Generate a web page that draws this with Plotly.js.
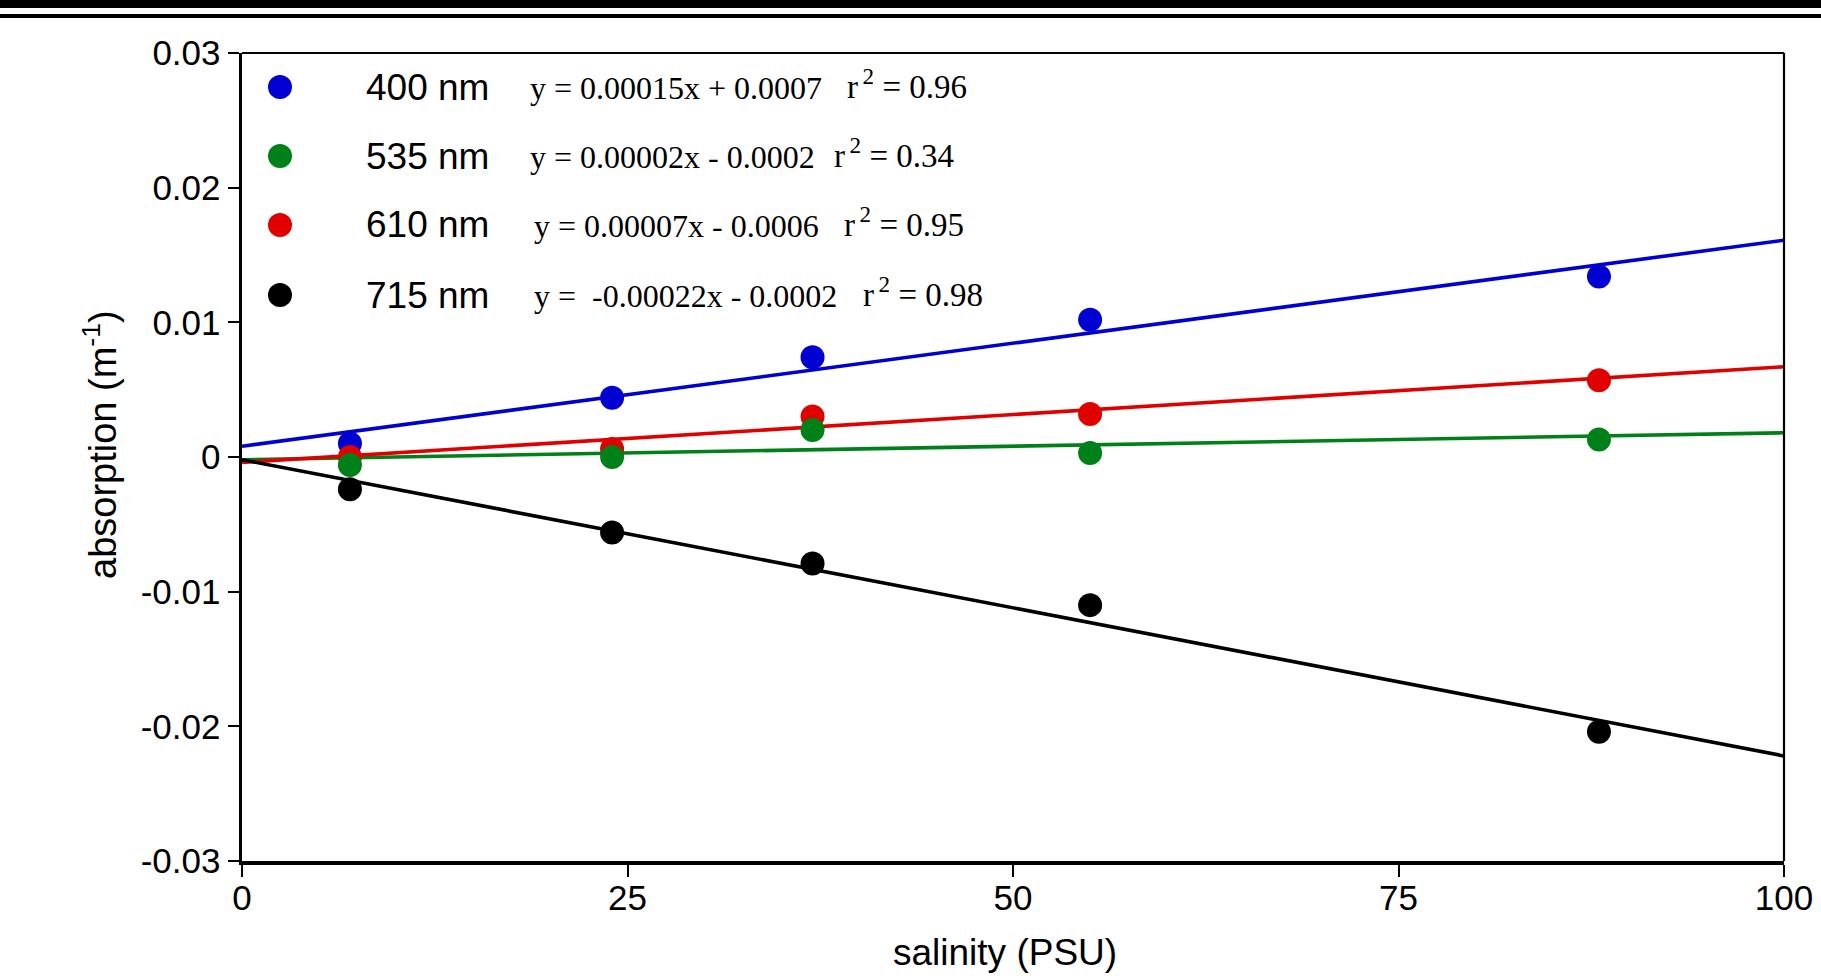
<!DOCTYPE html>
<html>
<head>
<meta charset="utf-8">
<script src="https://cdn.plot.ly/plotly-3.0.1.min.js"></script>
<style>html,body{margin:0;padding:0;background:#fff;}#chart{width:1821px;height:976px;}</style>
</head>
<body>
<div id="chart"></div>
<script>
// ---- data ----
const salinity = [7, 24, 37, 55, 88];
const abs400 = [0.0010, 0.0044, 0.0074, 0.0102, 0.0134];
const abs535 = [-0.0006, 0.0000, 0.0020, 0.0003, 0.0013];
const abs610 = [0.0000, 0.0006, 0.0030, 0.0032, 0.0057];
const abs715 = [-0.0024, -0.0056, -0.0079, -0.0110, -0.0204];

const fitX = [0, 100];
const fit400 = [0.0008, 0.0161];
const fit535 = [-0.0002, 0.0018];
const fit610 = [-0.0004, 0.0067];
const fit715 = [-0.0002, -0.0222];

const seriesNames = ["400 nm", "535 nm", "610 nm", "715 nm"];
const equations = ["y = 0.00015x + 0.0007", "y = 0.00002x - 0.0002", "y = 0.00007x - 0.0006", "y =  -0.00022x - 0.0002"];
const rSquared = ["r<sup>&#8201;2</sup> = 0.96", "r<sup>&#8201;2</sup> = 0.34", "r<sup>&#8201;2</sup> = 0.95", "r<sup>&#8201;2</sup> = 0.98"];
const colors = ["#0000d2", "#008018", "#e00000", "#000000"];

const xTickVals = [0, 25, 50, 75, 100];
const xTickText = ["0", "25", "50", "75", "100"];
const yTickVals = [-0.03, -0.02, -0.01, 0, 0.01, 0.02, 0.03];
const yTickText = ["-0.03", "-0.02", "-0.01", "0", "0.01", "0.02", "0.03"];
const xTitle = "salinity (PSU)";
const yTitle = "absorption (m<sup>-1</sup>)";

// ---- layout geometry (pixels) ----
const W = 1821, H = 976;
const L = 242, R = 1784, T = 53, B = 861;
const pw = R - L, ph = B - T;
const px = x => (x - L) / pw;
const py = y => (B - y) / ph;

const points = [abs400, abs535, abs610, abs715];
const fits = [fit400, fit535, fit610, fit715];
const traces = [];
// lines first, then dots on top
fits.forEach((f, i) => {
  traces.push({x: fitX, y: f, mode: "lines", type: "scatter",
    line: {color: colors[i], width: 3.6}, hoverinfo: "skip", showlegend: false});
});
[3, 0, 2, 1].forEach(i => {
  traces.push({x: salinity, y: points[i], mode: "markers", type: "scatter",
    name: seriesNames[i], marker: {color: colors[i], size: 24, line: {width: 0}}, showlegend: false});
});

const legendRows = [87, 156, 225, 295];
const eqX = [528, 528, 532, 532];
const rX = [845, 832, 842, 861];

const annotations = [];
const shapes = [];
legendRows.forEach((yy, i) => {
  shapes.push({type: "circle", xref: "paper", yref: "paper", xsizemode: "pixel", ysizemode: "pixel",
    xanchor: px(280), yanchor: py(yy), x0: -12, x1: 12, y0: -12, y1: 12,
    fillcolor: colors[i], line: {width: 0}});
  annotations.push({xref: "paper", yref: "paper", x: px(364), y: py(yy), xanchor: "left", yanchor: "middle",
    text: seriesNames[i], showarrow: false, font: {family: "Arial, Liberation Sans", size: 37, color: "#000"}});
  annotations.push({xref: "paper", yref: "paper", x: px(eqX[i]), y: py(yy + 1), xanchor: "left", yanchor: "middle",
    text: equations[i].replace(/ {2}/g, "&nbsp; "), showarrow: false, font: {family: "Times New Roman, Liberation Serif", size: 32, color: "#000"}});
  annotations.push({xref: "paper", yref: "paper", x: px(rX[i]), y: py(yy - 3), xanchor: "left", yanchor: "middle",
    text: rSquared[i], showarrow: false, font: {family: "Times New Roman, Liberation Serif", size: 33, color: "#000"}});
});

// axis titles
annotations.push({xref: "paper", yref: "paper", x: px(1005), y: py(952), xanchor: "center", yanchor: "middle",
  text: xTitle, showarrow: false, font: {family: "Arial, Liberation Sans", size: 37, color: "#000"}});
annotations.push({xref: "paper", yref: "paper", x: px(100), y: py(445), xanchor: "center", yanchor: "middle", textangle: -90,
  text: yTitle, showarrow: false, font: {family: "Arial, Liberation Sans", size: 38, color: "#000"}});

// frame top / right (thinner)
shapes.push({type: "line", xref: "paper", yref: "paper", x0: 0, x1: 1, y0: 1, y1: 1, line: {color: "#000", width: 2.2}});
shapes.push({type: "line", xref: "paper", yref: "paper", x0: 1, x1: 1, y0: 0, y1: 1, line: {color: "#000", width: 2.2}});
// top decorative bands
shapes.push({type: "rect", xref: "paper", yref: "paper", x0: px(0), x1: px(W), y0: py(0), y1: py(8), fillcolor: "#000", line: {width: 0}});
shapes.push({type: "rect", xref: "paper", yref: "paper", x0: px(0), x1: px(W), y0: py(14), y1: py(18), fillcolor: "#000", line: {width: 0}});

const tickFont = {family: "Arial, Liberation Sans", size: 35, color: "#000"};
const layout = {
  width: W, height: H,
  margin: {l: L, r: W - R, t: T, b: H - B, pad: 0},
  paper_bgcolor: "#fff", plot_bgcolor: "#fff",
  showlegend: false,
  xaxis: {range: [0, 100], tickvals: xTickVals, ticktext: xTickText, ticks: "outside", ticklen: 12, tickwidth: 2, tickcolor: "#000",
    showline: true, linewidth: 3.5, linecolor: "#000", showgrid: false, zeroline: false, tickfont: tickFont, ticklabelstandoff: -9},
  yaxis: {range: [-0.03, 0.03], tickvals: yTickVals, ticktext: yTickText, ticks: "outside", ticklen: 11, tickwidth: 2, tickcolor: "#000",
    showline: true, linewidth: 3.5, linecolor: "#000", showgrid: false, zeroline: false, tickfont: tickFont},
  shapes: shapes,
  annotations: annotations
};

Plotly.newPlot("chart", traces, layout, {displayModeBar: false, staticPlot: true});
</script>
</body>
</html>
